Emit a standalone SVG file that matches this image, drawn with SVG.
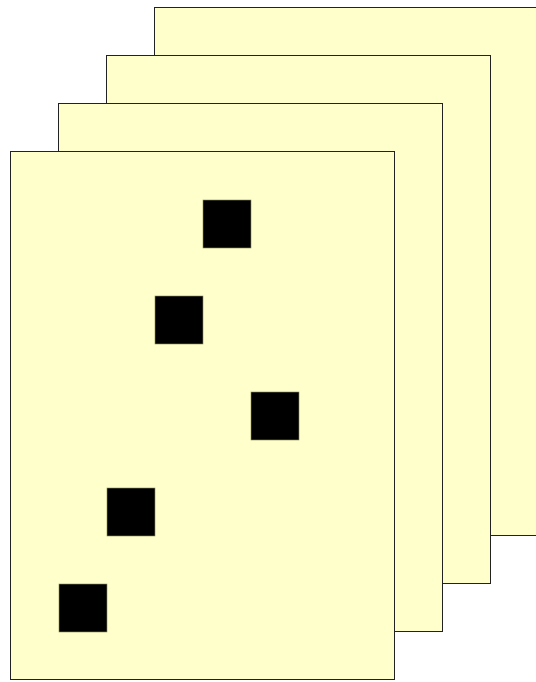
<svg xmlns="http://www.w3.org/2000/svg" width="536" height="682" viewBox="0 0 536 682">
<style>
.page{fill:#ffffcc;stroke:#222;stroke-width:1}
.blk{fill:#000;stroke:#8a8a60;stroke-width:0.6}
</style>
<rect width="536" height="682" fill="#fff"/>
<g id="page4"><rect class="page" x="154.5" y="7.5" width="384" height="528"/></g>
<g id="page3"><rect class="page" x="106.5" y="55.5" width="384" height="528"/></g>
<g id="page2"><rect class="page" x="58.5" y="103.5" width="384" height="528"/></g>
<g id="page1"><rect class="page" x="10.5" y="151.5" width="384" height="528"/></g>
<g id="blocks">
<rect class="blk" x="203" y="200" width="48" height="48"/>
<rect class="blk" x="155" y="296" width="48" height="48"/>
<rect class="blk" x="251" y="392" width="48" height="48"/>
<rect class="blk" x="107" y="488" width="48" height="48"/>
<rect class="blk" x="59" y="584" width="48" height="48"/>
</g>
<g id="connectors"/>
</svg>
